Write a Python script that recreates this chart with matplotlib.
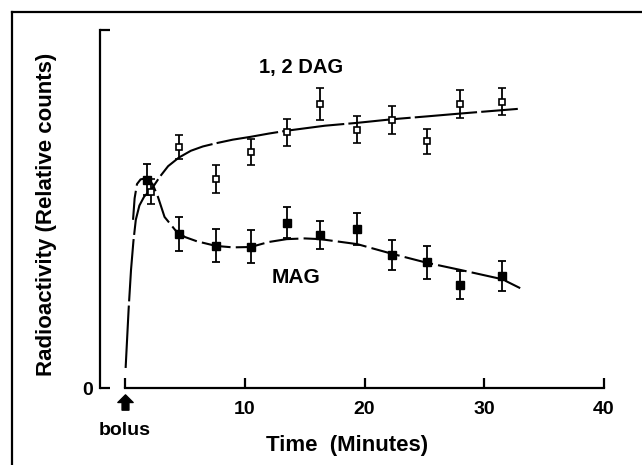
import matplotlib
matplotlib.use("Agg")
import matplotlib.pyplot as plt
from matplotlib.path import Path
from matplotlib.lines import Line2D

plt.rcParams['font.family'] = ['Liberation Sans', 'DejaVu Sans']
plt.rcParams['font.weight'] = 'bold'

# sampled time points (minutes)
dag_t = [2.2, 4.5, 7.6, 10.5, 13.5, 16.3, 19.4, 22.3, 25.2, 28.0, 31.5]
dag_y = [54.8, 67.4, 58.4, 66.0, 71.4, 79.3, 72.2, 74.9, 68.9, 79.3, 80.0]
dag_err = [3.5, 3.4, 3.8, 3.6, 3.9, 4.4, 3.8, 4.0, 3.4, 3.9, 3.8]

mag_t = [1.8, 4.5, 7.6, 10.5, 13.5, 16.3, 19.4, 22.3, 25.2, 28.0, 31.5]
mag_y = [58.2, 43.0, 39.7, 39.5, 46.2, 42.8, 44.4, 37.2, 35.1, 28.8, 31.3]
mag_err = [4.4, 4.7, 4.6, 4.6, 4.3, 3.9, 4.4, 4.1, 4.5, 3.8, 4.3]

# fitted curves
dag_fit_t = [0.05, 0.3, 0.5, 0.7, 0.9, 1.2, 1.6, 2.2, 2.9, 3.6, 4.5, 5.5, 6.5,
             7.6, 9.0, 10.5, 12.0, 13.5, 16.7, 19.4, 22.3, 25.2, 28.0, 32.8]
dag_fit_y = [5.6, 22, 33, 41, 47, 51, 53.5, 55.5, 59, 62, 64.4, 66.3, 67.5,
             68.4, 69.4, 70.2, 71.1, 71.9, 73.3, 74.1, 75.1, 75.9, 76.7, 78.0]

mag_fit_t = [0.67, 0.8, 1.0, 1.3, 1.6, 2.0, 2.3, 2.75, 3.3, 4.2, 5.0, 6.0, 7.6,
             9.0, 10.5, 12.0, 13.5, 15.0, 16.3, 19.4, 22.3, 25.2, 28.0, 31.5, 33.0]
mag_fit_y = [47, 53, 57, 58.3, 58.5, 58, 57, 53.4, 47.8, 44.1, 42.2, 41, 39.7,
             39.3, 39.4, 40.8, 41.6, 41.8, 41.6, 40.2, 37.5, 35.0, 33.0, 30.4, 27.9]

fig = plt.figure(figsize=(6.42, 4.65), dpi=100)
ax = fig.add_axes([100 / 642, 77 / 465, 516 / 642, 365 / 465])
ax.set_xlim(-2.09, 41)
ax.set_ylim(0, 102)

# curves
ax.plot(dag_fit_t, dag_fit_y, color='black', lw=1.5, dashes=(30, 2))
ax.plot(mag_fit_t, mag_fit_y, color='black', lw=1.5, dashes=(14, 2.5))

# data points
ax.errorbar(dag_t, dag_y, yerr=dag_err, fmt='s', color='black', ms=5,
            mfc='white', mec='black', mew=1.2, ecolor='black', elinewidth=1.3,
            capsize=2.6, capthick=1.3, zorder=3)
ax.errorbar(mag_t, mag_y, yerr=mag_err, fmt='s', color='black', ms=5.8,
            mfc='black', mec='black', ecolor='black', elinewidth=1.3,
            capsize=2.6, capthick=1.3, zorder=3)

# axes styling
for s in ['top', 'right']:
    ax.spines[s].set_visible(False)
ax.spines['left'].set_linewidth(1.6)
ax.spines['bottom'].set_linewidth(1.6)
ax.spines['left'].set_bounds(0, 100)
ax.spines['bottom'].set_bounds(0, 40)

ax.set_xticks([0, 10, 20, 30, 40])
ax.set_xticklabels(['', '10', '20', '30', '40'])
ax.set_yticks([0, 100])
ax.set_yticklabels(['0', ''])
ax.tick_params(axis='x', direction='in', length=7, width=1.6, pad=9, labelsize=14)
ax.tick_params(axis='y', direction='in', length=7, width=1.6, pad=5, labelsize=14)

# bolus arrow and label
arrow = Path([(-0.45, -1), (0.45, -1), (0.45, 0), (1, 0), (0, 1), (-1, 0),
              (-0.45, 0), (-0.45, -1)], closed=True)
ax.plot([0], [-4.0], marker=arrow, ms=11, color='black', clip_on=False)
ax.text(0, -11.9, 'bolus', ha='center', va='center', fontsize=14, clip_on=False)

# curve labels
ax.text(14.7, 89.7, '1, 2 DAG', ha='center', va='center', fontsize=14.5)
ax.text(14.3, 31.0, 'MAG', ha='center', va='center', fontsize=15)

# axis titles
fig.text(47 / 642, 1 - 214 / 465, 'Radioactivity (Relative counts)',
         rotation=90, ha='center', va='center', fontsize=16)
fig.text(347 / 642, 1 - 445 / 465, 'Time  (Minutes)', ha='center', va='center',
         fontsize=16)

# outer frame
fig.add_artist(Line2D([12 / 642, 12 / 642], [0, 1 - 12 / 465],
                      transform=fig.transFigure, color='black', lw=1.6))
fig.add_artist(Line2D([12 / 642, 1], [1 - 12 / 465, 1 - 12 / 465],
                      transform=fig.transFigure, color='black', lw=1.6))

fig.savefig('out.png', dpi=100)
